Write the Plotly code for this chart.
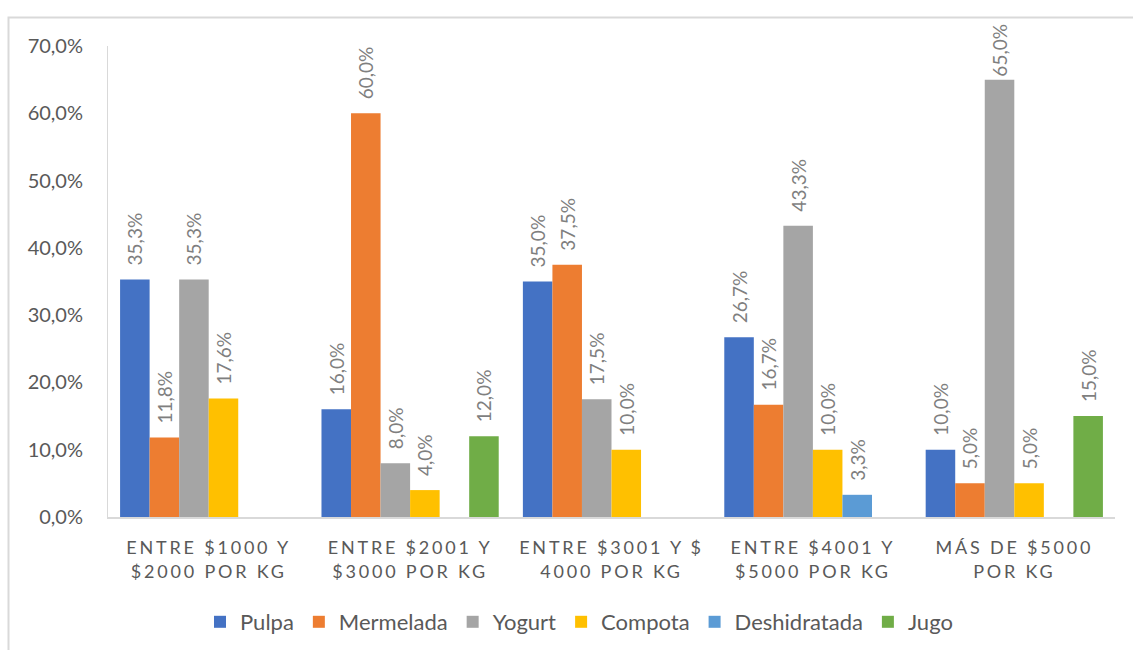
import plotly.graph_objects as go

categories = [
    "ENTRE $1000 Y<br>$2000 POR KG",
    "ENTRE $2001 Y<br>$3000 POR KG",
    "ENTRE $3001 Y $<br>4000 POR KG",
    "ENTRE $4001 Y<br>$5000 POR KG",
    "MÁS DE $5000<br>POR KG",
]
pulpa = [35.3, 16.0, 35.0, 26.7, 10.0]
mermelada = [11.8, 60.0, 37.5, 16.7, 5.0]
yogurt = [35.3, 8.0, 17.5, 43.3, 65.0]
compota = [17.6, 4.0, 10.0, 10.0, 5.0]
deshidratada = [None, None, None, 3.3, None]
jugo = [None, 12.0, None, None, 15.0]

series_names = ["Pulpa", "Mermelada", "Yogurt", "Compota", "Deshidratada", "Jugo"]
series_values = [pulpa, mermelada, yogurt, compota, deshidratada, jugo]
colors = ["#4472C4", "#ED7D31", "#A5A5A5", "#FFC000", "#5B9BD5", "#70AD47"]

y_ticks = [0, 10, 20, 30, 40, 50, 60, 70]
y_tick_labels = ["0,0%", "10,0%", "20,0%", "30,0%", "40,0%", "50,0%", "60,0%", "70,0%"]

FONT = "Lato, 'Liberation Sans', Arial, sans-serif"
Y_MAX = 70

fig = go.Figure()
for name, vals, col in zip(series_names, series_values, colors):
    # leading figure space gives the label its gap above the bar; labels near
    # the top of the chart sit tight on the bar (as Excel pushes them down)
    templates = [
        "%{y:.1f}%" if (v is not None and v > Y_MAX - 8) else "\u2007%{y:.1f}%"
        for v in vals
    ]
    fig.add_trace(go.Bar(
        name=name,
        x=categories,
        y=vals,
        marker=dict(color=col, line=dict(width=0)),
        texttemplate=templates,
        textposition="outside",
        textangle=-90,
        constraintext="none",
        cliponaxis=False,
        textfont=dict(family=FONT, size=19, color="#7f7f7f"),
    ))

L, R, T, B = 108, 18, 46, 133
W, H = 1133, 650
pw, ph = W - L - R, H - T - B

fig.update_layout(
    width=W, height=H,
    margin=dict(l=L, r=R, t=T, b=B, pad=0, autoexpand=False),
    barmode="group",
    bargap=0.12,
    bargroupgap=0,
    separators=",.",
    paper_bgcolor="white",
    plot_bgcolor="white",
    font=dict(family=FONT, color="#595959"),
    showlegend=True,
    legend=dict(
        orientation="h",
        x=(579 - L) / pw, xanchor="center",
        y=(T + ph - 622) / ph, yanchor="middle",
        font=dict(family=FONT, size=22, color="#595959"),
        itemwidth=30,
        traceorder="normal",
    ),
    xaxis=dict(
        showline=True, linecolor="#d9d9d9", linewidth=1.5,
        ticks="", showgrid=False,
        tickfont=dict(family=FONT, size=18, color="#595959"),
        ticklabelstandoff=14,
    ),
    yaxis=dict(
        range=[0, Y_MAX],
        tickvals=y_ticks,
        ticktext=y_tick_labels,
        showline=True, linecolor="#d9d9d9", linewidth=1,
        showgrid=False, zeroline=False, ticks="",
        tickfont=dict(family=FONT, size=20, color="#595959"),
        ticklabelstandoff=20,
    ),
    shapes=[dict(
        type="rect", xref="paper", yref="paper",
        x0=(8.5 - L) / pw, x1=(W + 10 - L) / pw,
        y0=(T + ph - (H + 10)) / ph, y1=(T + ph - 17.5) / ph,
        line=dict(color="#d9d9d9", width=2),
        fillcolor="rgba(0,0,0,0)", layer="below",
    )],
)

post = """
function spaceTicks(){
  document.querySelectorAll('.xtick text').forEach(function(t){t.style.letterSpacing='2.8px';});
}
spaceTicks();
var gd = document.getElementsByClassName('plotly-graph-div')[0];
if (gd && gd.on) { gd.on('plotly_afterplot', spaceTicks); }
"""

fig.write_html("out.html", post_script=post)
